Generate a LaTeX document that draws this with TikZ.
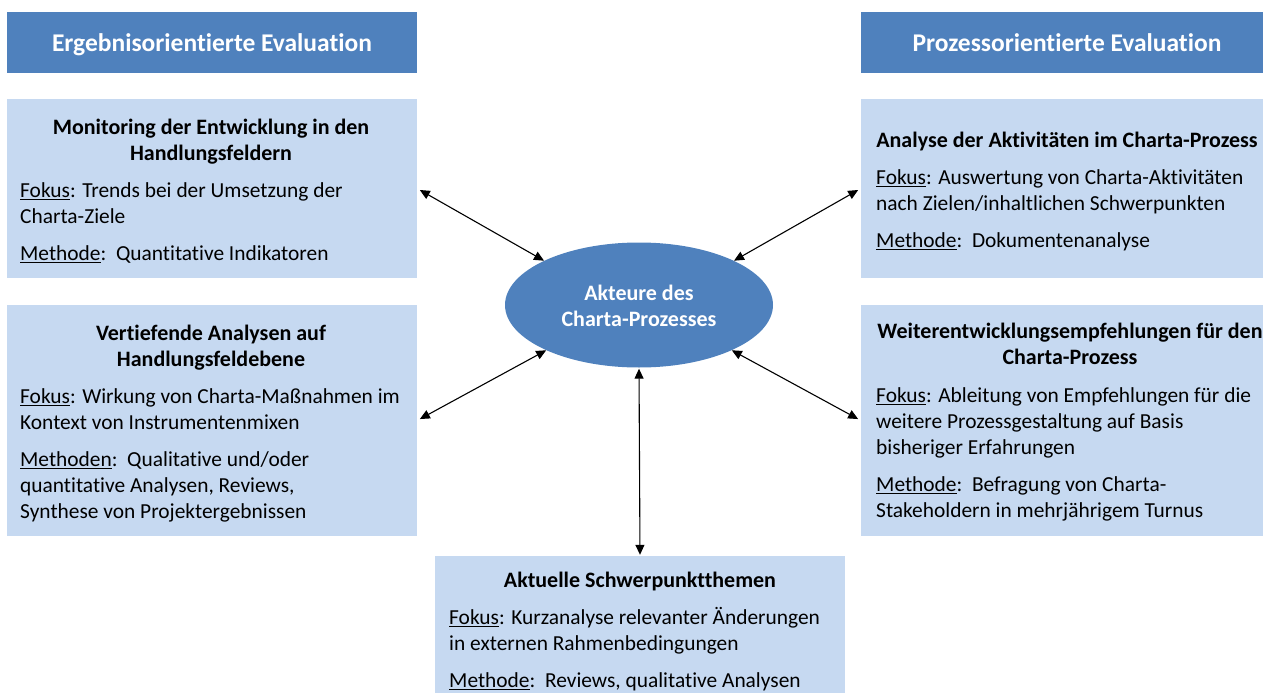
\documentclass[tikz,border=0pt]{standalone}
\usepackage{fontspec}
\setmainfont{Carlito}[Ligatures=NoCommon]
\usetikzlibrary{arrows.meta,shapes.geometric}
\definecolor{hdrblue}{RGB}{79,129,189}
\definecolor{cardblue}{RGB}{198,217,241}
\newcommand\fsbody{\fontsize{21.4pt}{26pt}\selectfont}
\newcommand\fsbold{\fontsize{22pt}{26pt}\selectfont\bfseries}
\newcommand\fshdr{\fontsize{25.5pt}{30pt}\selectfont\bfseries}
\newcommand\ulw[1]{\setbox0\hbox{#1}\rlap{\rule[-3pt]{\wd0}{1.4pt}}\box0}
\tikzset{
  hdr/.style={fill=hdrblue, draw=none, inner sep=0pt, text=white, font=\fshdr},
  card/.style={fill=cardblue, draw=none, inner sep=0pt},
  ttl/.style={anchor=base, inner sep=0pt, font=\fsbold},
  txt/.style={anchor=base west, inner sep=0pt, font=\fsbody},
  conn/.style={{Triangle[length=10pt,width=9pt]}-{Triangle[length=10pt,width=9pt]}, line width=1.1pt, black},
  hub/.style={ellipse, fill=hdrblue, draw=none, inner sep=0pt, minimum width=268pt, minimum height=125pt},
}
\begin{document}
\begin{tikzpicture}[x=1pt,y=-1pt]
\useasboundingbox (0,0) rectangle (1267,693);
% headers
\node[hdr, minimum width=410pt, minimum height=61pt] (hL) at (212,42.5) {};
\node[hdr, anchor=base] (hLt) at (212,52) {Ergebnisorientierte Evaluation};
\node[hdr, minimum width=402pt, minimum height=61pt] (hR) at (1062,42.5) {};
\node[hdr, anchor=base] (hRt) at (1067,52) {Prozessorientierte Evaluation};
% cards
\node[card, minimum width=410pt, minimum height=179pt] (b1) at (212,188.5) {};
\node[card, minimum width=410pt, minimum height=231pt] (b2) at (212,420.5) {};
\node[card, minimum width=402pt, minimum height=179pt] (b3) at (1062,188.5) {};
\node[card, minimum width=402pt, minimum height=231pt] (b4) at (1062,420.5) {};
\node[card, minimum width=410pt, minimum height=137pt] (b5) at (640,624.5) {};
% hub
\node[hub] (hub) at (639,305) {};
\node[anchor=base, inner sep=0pt, text=white, font=\fsbold] (hubt1) at (639,300) {Akteure des};
\node[anchor=base, inner sep=0pt, text=white, font=\fsbold] (hubt2) at (639,326) {Charta-Prozesses};
% box 1
\node[ttl] (b1t1) at (211,134) {Monitoring der Entwicklung in den};
\node[ttl] (b1t2) at (211,160) {Handlungsfeldern};
\node[txt] (b1l1) at (20,197) {\ulw{Fokus}: Trends bei der Umsetzung der};
\node[txt] (b1l2) at (20,223) {Charta-Ziele};
\node[txt] (b1l3) at (20,260) {\ulw{Methode}:\ \ Quantitative Indikatoren};
% box 2
\node[ttl] (b2t1) at (211,340) {Vertiefende Analysen auf};
\node[ttl] (b2t2) at (211,366) {Handlungsfeldebene};
\node[txt] (b2l1) at (20,403) {\ulw{Fokus}: Wirkung von Charta-Maßnahmen im};
\node[txt] (b2l2) at (20,429) {Kontext von Instrumentenmixen};
\node[txt] (b2l3) at (20,466) {\ulw{Methoden}:\ \ Qualitative und/oder};
\node[txt] (b2l4) at (20,492) {quantitative Analysen, Reviews,};
\node[txt] (b2l5) at (20,518) {Synthese von Projektergebnissen};
% box 3
\node[ttl] (b3t1) at (1067,147) {Analyse der Aktivitäten im Charta-Prozess};
\node[txt] (b3l1) at (876,184) {\ulw{Fokus}: Auswertung von Charta-Aktivitäten};
\node[txt] (b3l2) at (876,210) {nach Zielen/inhaltlichen Schwerpunkten};
\node[txt] (b3l3) at (876,247) {\ulw{Methode}:\ \ Dokumentenanalyse};
% box 4
\node[ttl] (b4t1) at (1070,338) {Weiterentwicklungsempfehlungen für den};
\node[ttl] (b4t2) at (1070,364) {Charta-Prozess};
\node[txt] (b4l1) at (876,402) {\ulw{Fokus}: Ableitung von Empfehlungen für die};
\node[txt] (b4l2) at (876,428) {weitere Prozessgestaltung auf Basis};
\node[txt] (b4l3) at (876,454) {bisheriger Erfahrungen};
\node[txt] (b4l4) at (876,491) {\ulw{Methode}:\ \ Befragung von Charta-};
\node[txt] (b4l5) at (876,517) {Stakeholdern in mehrjährigem Turnus};
% box 5
\node[ttl] (b5t1) at (640,587) {Aktuelle Schwerpunktthemen};
\node[txt] (b5l1) at (449,624) {\ulw{Fokus}: Kurzanalyse relevanter Änderungen};
\node[txt] (b5l2) at (449,650) {in externen Rahmenbedingungen};
\node[txt] (b5l3) at (449,687) {\ulw{Methode}:\ \ Reviews, qualitative Analysen};
% connectors
\draw[conn, shorten <=3pt] (b1.east) -- (hub.155);
\draw[conn, shorten <=3pt] (b2.east) -- (hub.206);
\draw[conn, shorten <=3pt] (b3.west) -- (hub.25);
\draw[conn, shorten <=3pt] (b4.west) -- (hub.334);
\draw[conn, shorten <=1pt, shorten >=1pt] (hub.south) -- (b5.north);
\end{tikzpicture}
\end{document}
